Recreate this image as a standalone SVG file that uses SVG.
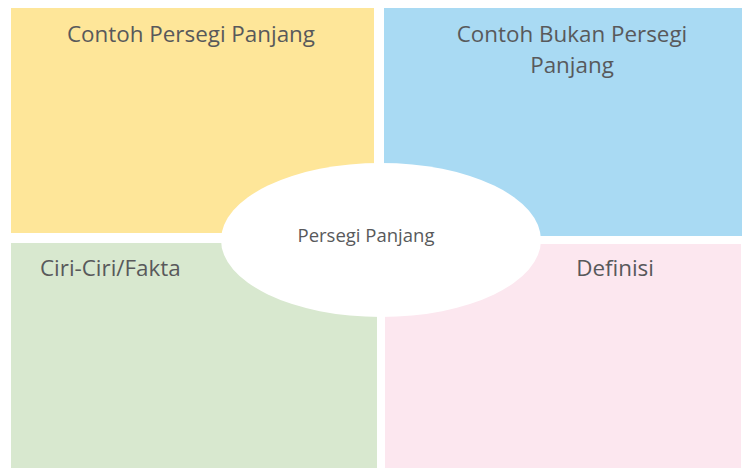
<svg xmlns="http://www.w3.org/2000/svg" width="742" height="468" viewBox="0 0 742 468">
<style>
.t{font-family:"Open Sans","Liberation Sans",sans-serif;fill:#58595b;font-size:22.4px}
.s{font-size:18.5px}
</style>
<rect width="742" height="468" fill="#fff"/>
<g id="contoh"><rect x="11" y="8" width="363" height="225" fill="#fee699"/><text class="t" x="191" y="42" text-anchor="middle">Contoh Persegi Panjang</text></g>
<g id="bukan"><rect x="384" y="8" width="358" height="228" fill="#a9daf3"/><text class="t" x="572" y="42" text-anchor="middle">Contoh Bukan Persegi</text><text class="t" x="572" y="73" text-anchor="middle">Panjang</text></g>
<g id="ciri"><rect x="11" y="243" width="366" height="225" fill="#d8e8cf"/><text class="t" x="40" y="276">Ciri-Ciri/Fakta</text></g>
<g id="definisi"><rect x="385" y="244" width="356" height="224" fill="#fce7ef"/><text class="t" x="615" y="276" text-anchor="middle">Definisi</text></g>
<g id="pusat"><ellipse cx="381" cy="240" rx="160" ry="77" fill="#fff"/><text class="t s" x="366" y="242" text-anchor="middle">Persegi Panjang</text></g>
<g id="connectors"/>
</svg>
